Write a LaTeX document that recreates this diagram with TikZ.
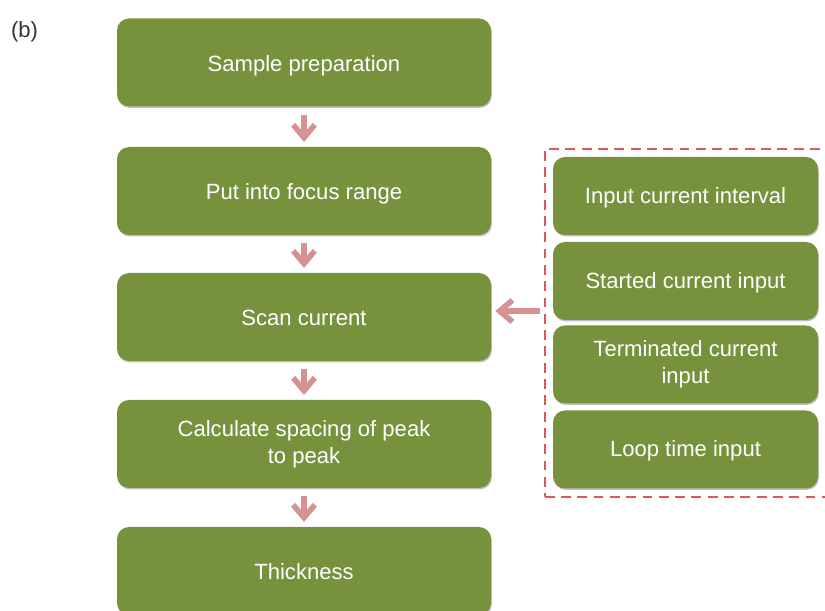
\documentclass[tikz,border=0pt]{standalone}
\usepackage{fontspec}
\setmainfont{Liberation Sans}
\usetikzlibrary{arrows.meta,fit,shadows}
\definecolor{olive}{RGB}{118,146,60}
\definecolor{rose}{RGB}{212,146,146}
\definecolor{dashred}{RGB}{222,88,88}
\begin{document}
\begin{tikzpicture}[
  box/.style={rectangle, rounded corners=0.3cm, fill=olive, text=white, align=center,
    font=\fontsize{15.7}{19.2}\selectfont, text depth=0pt,
    drop shadow={shadow xshift=0.6pt, shadow yshift=-1pt, opacity=0.25, fill=black}},
  proc/.style={box, text height=0.44cm, minimum width=9.35cm, minimum height=2.2cm},
  param/.style={box, text height=0.37cm, minimum width=6.625cm, minimum height=1.95cm},
  twoline/.style={text height=, text depth=},
  flow/.style={rose, line width=4pt, -{Straight Barb[length=3.2mm, width=5.4mm]},
    shorten <=0.2cm, shorten >=0.12cm}]
\useasboundingbox (0,0) rectangle (20.625,-15.275);

\node[font=\fontsize{15.7}{19.2}\selectfont, text=black!80, anchor=west, inner sep=0pt] (b) at (0.27,-0.8) {(b)};

% main steps
\node[proc] (S) at (7.6,-1.5625) {Sample preparation};
\node[proc] (F) at (7.6,-4.775)  {Put into focus range};
\node[proc] (C) at (7.6,-7.925)  {Scan current};
\node[proc, twoline] (P) at (7.6,-11.1) {Calculate spacing of peak\\to peak};
\node[proc] (T) at (7.6,-14.275) {Thickness};

% scan settings
\node[param] (I) at (17.1375,-4.9)    {Input current interval};
\node[param] (B) at (17.1375,-7.025)  {Started current input};
\node[param, twoline] (E) at (17.1375,-9.1125) {Terminated current\\input};
\node[param] (L) at (17.1375,-11.2375){Loop time input};
\node[draw=dashred, line width=1.4pt, dash pattern=on 7pt off 4.6pt, inner sep=0.2cm, fit=(I)(L)] (R) {};

\draw[flow] (S) -- (F);
\draw[flow] (F) -- (C);
\draw[flow] (C) -- (P);
\draw[flow] (P) -- (T);
\draw[flow, shorten <=0.1cm, shorten >=0.1cm] ([yshift=0.15cm]R.west |- C.east) -- ([yshift=0.15cm]C.east);
\end{tikzpicture}
\end{document}
